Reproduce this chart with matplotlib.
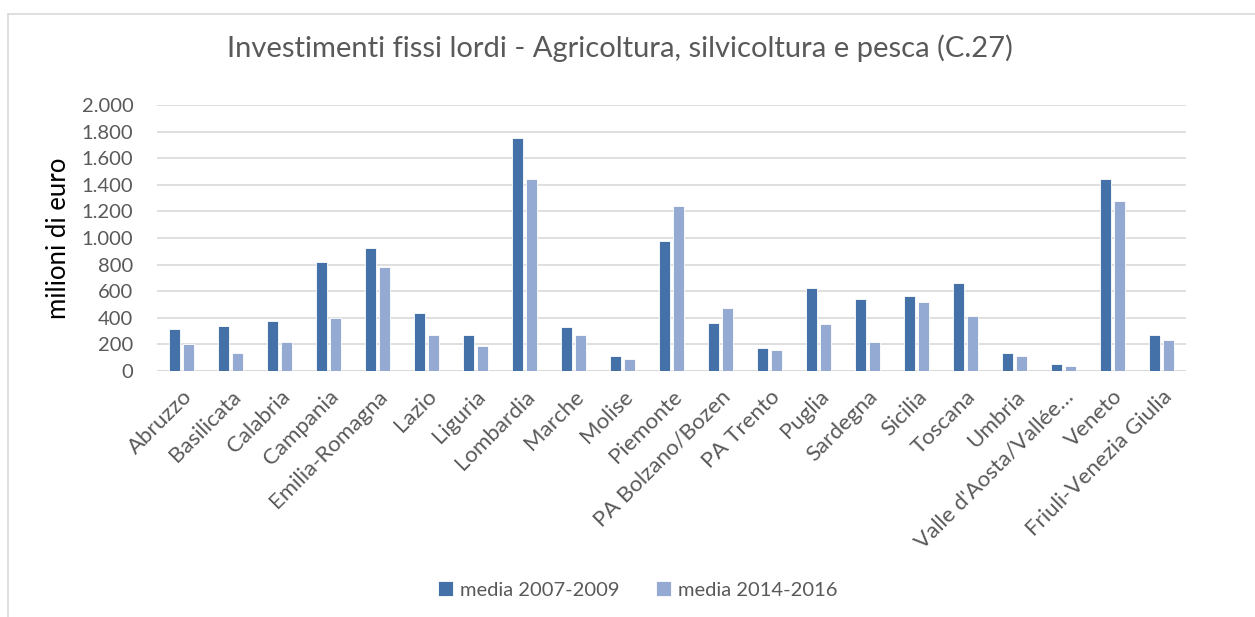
import matplotlib
matplotlib.use("Agg")
import matplotlib.pyplot as plt
import numpy as np
from matplotlib.lines import Line2D

regions = ["Abruzzo", "Basilicata", "Calabria", "Campania", "Emilia-Romagna", "Lazio",
           "Liguria", "Lombardia", "Marche", "Molise", "Piemonte", "PA Bolzano/Bozen",
           "PA Trento", "Puglia", "Sardegna", "Sicilia", "Toscana", "Umbria",
           "Valle d'Aosta/Vallée…", "Veneto", "Friuli-Venezia Giulia"]
media_2007_2009 = [314, 341, 376, 818, 926, 434, 268, 1752, 329, 113, 974, 364,
                   173, 627, 545, 567, 665, 135, 50, 1440, 268]
media_2014_2016 = [206, 135, 221, 399, 780, 268, 186, 1440, 268, 90, 1237, 472,
                   161, 351, 221, 519, 412, 110, 40, 1275, 231]
yticks = [0, 200, 400, 600, 800, 1000, 1200, 1400, 1600, 1800, 2000]
ytick_labels = ["0", "200", "400", "600", "800", "1.000", "1.200", "1.400", "1.600", "1.800", "2.000"]

plt.rcParams['font.family'] = ['Lato', 'DejaVu Sans']
TXT = "#595959"
C1 = "#4472A8"
C2 = "#95AAD2"

fig = plt.figure(figsize=(12.55, 6.17), dpi=100)
ax = fig.add_axes([157/1255, 1-371/617, (1186-157)/1255, (371-105)/617])

x = np.arange(len(regions))
w = 0.235
ax.bar(x - 0.14, media_2007_2009, width=w, color=C1, edgecolor="white", linewidth=0.6,
       label="media 2007-2009", zorder=3)
ax.bar(x + 0.14, media_2014_2016, width=w, color=C2, edgecolor="white", linewidth=0.6,
       label="media 2014-2016", zorder=3)

ax.set_xlim(-0.5, len(regions) - 0.5)
ax.set_ylim(0, 2000)
ax.set_yticks(yticks)
ax.set_yticklabels(ytick_labels)
ax.yaxis.grid(True, color="#D9D9D9", linewidth=1.2, zorder=0)
ax.set_axisbelow(True)
for s in ax.spines.values():
    s.set_visible(False)
ax.axhline(0, color="#D9D9D9", linewidth=1.2, zorder=2)
ax.tick_params(axis='y', length=0, pad=17, labelsize=14.5, labelcolor=TXT)
ax.tick_params(axis='x', length=0, pad=11, labelsize=16, labelcolor=TXT)
ax.set_xticks(x)
ax.set_xticklabels(regions, rotation=45, ha='right', va='top', rotation_mode='anchor')

ax.set_ylabel("milioni di euro", fontsize=18.5, color="#000000")
ax.yaxis.set_label_coords(-(157-71)/1029, 0.5)

fig.text(620/1255, 1-48/617, "Investimenti fissi lordi - Agricoltura, silvicoltura e pesca (C.27)",
         ha='center', va='center', fontsize=21, color=TXT)

leg = fig.legend(loc='center', bbox_to_anchor=(638/1255, 1-590/617), ncol=2, frameon=False,
                 fontsize=14.5, handlelength=0.75, handleheight=0.75, columnspacing=1.8,
                 handletextpad=0.35)
for t in leg.get_texts():
    t.set_color(TXT)

# chart frame (left and top edges)
fig.add_artist(Line2D([8/1255, 8/1255], [0, 1-14/617], transform=fig.transFigure,
                      color="#D9D9D9", linewidth=1.2))
fig.add_artist(Line2D([8/1255, 1], [1-14/617, 1-14/617], transform=fig.transFigure,
                      color="#D9D9D9", linewidth=1.2))

fig.savefig("out.png", dpi=100, facecolor="white")
